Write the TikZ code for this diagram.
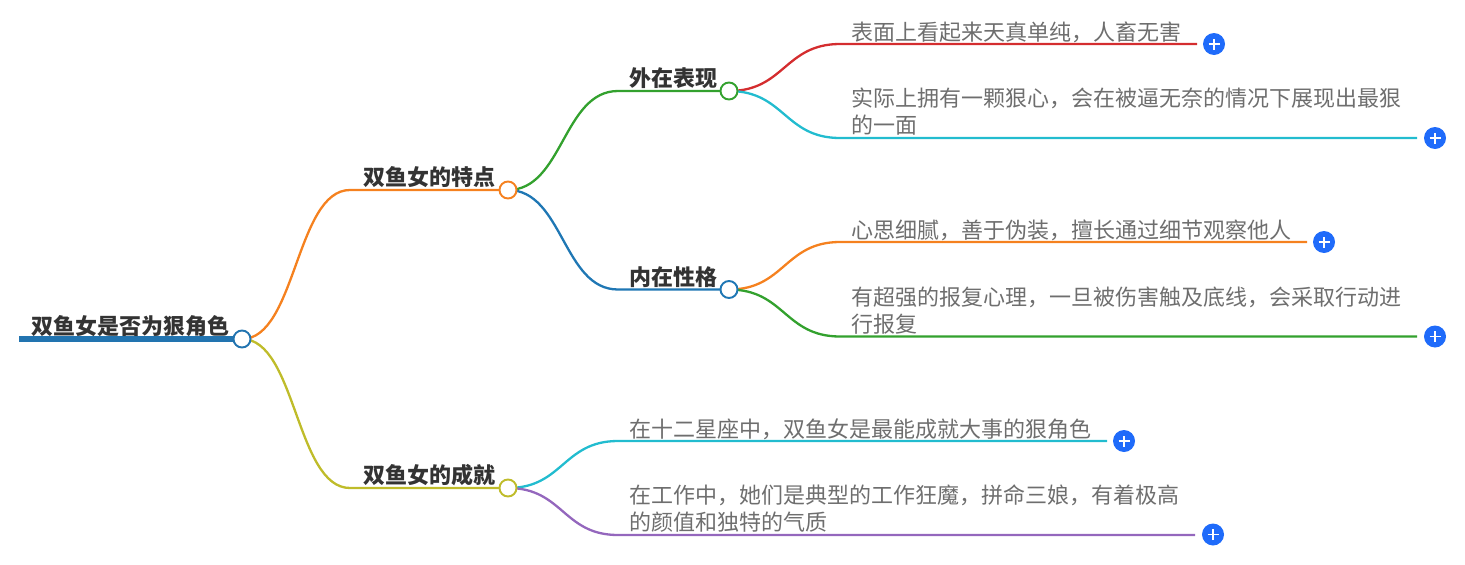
\documentclass[tikz,border=0pt]{standalone}
\usepackage{fontspec}
\setmainfont{Noto Sans CJK SC}
\usetikzlibrary{calc}
\definecolor{cblue}{HTML}{2274B0}
\definecolor{corange}{HTML}{F5811F}
\definecolor{colive}{HTML}{BFBC2A}
\definecolor{cgreen}{HTML}{33A12E}
\definecolor{cdeep}{HTML}{1F77B4}
\definecolor{cred}{HTML}{D42D2F}
\definecolor{ccyan}{HTML}{22BCCF}
\definecolor{cpurple}{HTML}{9467BD}
\definecolor{plusblue}{HTML}{1F6BFA}
\definecolor{headtext}{HTML}{333333}
\definecolor{leaftext}{HTML}{6E6E6E}
\tikzset{
  x=1pt,y=-1pt,
  hub/.style={circle,draw=#1,fill=white,line width=1.9pt,minimum size=17pt,inner sep=0pt},
  head/.style={anchor=center,inner sep=0pt,font=\fontsize{22pt}{24pt}\selectfont\bfseries,text=headtext},
  leaf/.style={anchor=north west,inner sep=0pt,align=left,font=\fontsize{22pt}{27pt}\selectfont,text=leaftext},
  plus/.style={circle,fill=plusblue,minimum size=22pt,inner sep=0pt,
    path picture={\draw[white,line width=1.8pt]
      (path picture bounding box.center) ++(-5.5pt,0) -- ++(11pt,0)
      (path picture bounding box.center) ++(0,-5.5pt) -- ++(0,11pt);}},
  link/.style={line width=2.3pt,draw=#1},
  rootline/.style={line width=5.5pt,draw=#1},
}
\newcommand{\branch}[4]{% colour, from, elbow, end
  \coordinate (midpt) at ($(#2)!0.5!(#3)$);
  \draw[link=#1] (#2) .. controls (midpt|-#2) and (midpt|-#3) .. (#3) -- (#4);
}
\begin{document}
\begin{tikzpicture}
\useasboundingbox (0,0) rectangle (1465,565);
% free ends
\coordinate (rootstart) at (19,339);
\coordinate (e1) at (350,190);
\coordinate (e2) at (350,488);
\coordinate (e3) at (618,91);
\coordinate (e4) at (618,289.5);
\coordinate (e5) at (840,44);
\coordinate (e6) at (840,138);
\coordinate (e7) at (840,242);
\coordinate (e8) at (840,336.5);
\coordinate (e9) at (618,441);
\coordinate (e10) at (618,535);
\coordinate (t5) at (1197,44);
\coordinate (t6) at (1417,138);
\coordinate (t7) at (1307,242);
\coordinate (t8) at (1417,336.5);
\coordinate (t9) at (1107,441);
\coordinate (t10) at (1195,535);
% hubs positions
\coordinate (hroot) at (242,339);
\coordinate (ha) at (508,190);
\coordinate (hb) at (508,488);
\coordinate (hc) at (729,91);
\coordinate (hd) at (729,289.5);
% connectors
\draw[rootline=cblue] (rootstart) -- (hroot);
\branch{corange}{hroot}{e1}{ha}
\branch{colive}{hroot}{e2}{hb}
\branch{cgreen}{ha}{e3}{hc}
\branch{cdeep}{ha}{e4}{hd}
\branch{cred}{hc}{e5}{t5}
\branch{ccyan}{hc}{e6}{t6}
\branch{corange}{hd}{e7}{t7}
\branch{cgreen}{hd}{e8}{t8}
\branch{ccyan}{hb}{e9}{t9}
\branch{cpurple}{hb}{e10}{t10}
% hub circles
\node[hub=cblue] (nroot) at (hroot) {};
\node[hub=corange] (na) at (ha) {};
\node[hub=colive] (nb) at (hb) {};
\node[hub=cgreen] (nc) at (hc) {};
\node[hub=cdeep] (nd) at (hd) {};
% head text
\node[head] (troot) at (130.3,326.5) {双鱼女是否为狠角色};
\node[head] (ta) at (429,177.5) {双鱼女的特点};
\node[head] (tb) at (429,475.5) {双鱼女的成就};
\node[head] (tc) at (673,78.5) {外在表现};
\node[head] (td) at (673,277.5) {内在性格};
% leaf text
\node[leaf] (l5) at (851,22) {表面上看起来天真单纯，人畜无害};
\node[leaf] (l6) at (851,88) {实际上拥有一颗狠心，会在被逼无奈的情况下展现出最狠\\的一面};
\node[leaf] (l7) at (851,220) {心思细腻，善于伪装，擅长通过细节观察他人};
\node[leaf] (l8) at (851,287) {有超强的报复心理，一旦被伤害触及底线，会采取行动进\\行报复};
\node[leaf] (l9) at (629,419) {在十二星座中，双鱼女是最能成就大事的狠角色};
\node[leaf] (l10) at (629,485) {在工作中，她们是典型的工作狂魔，拼命三娘，有着极高\\的颜值和独特的气质};
% plus buttons
\node[plus] (p5) at (1214,44) {};
\node[plus] (p6) at (1435,138) {};
\node[plus] (p7) at (1324,242) {};
\node[plus] (p8) at (1435,336.5) {};
\node[plus] (p9) at (1124,441) {};
\node[plus] (p10) at (1213,534.5) {};
\end{tikzpicture}
\end{document}
